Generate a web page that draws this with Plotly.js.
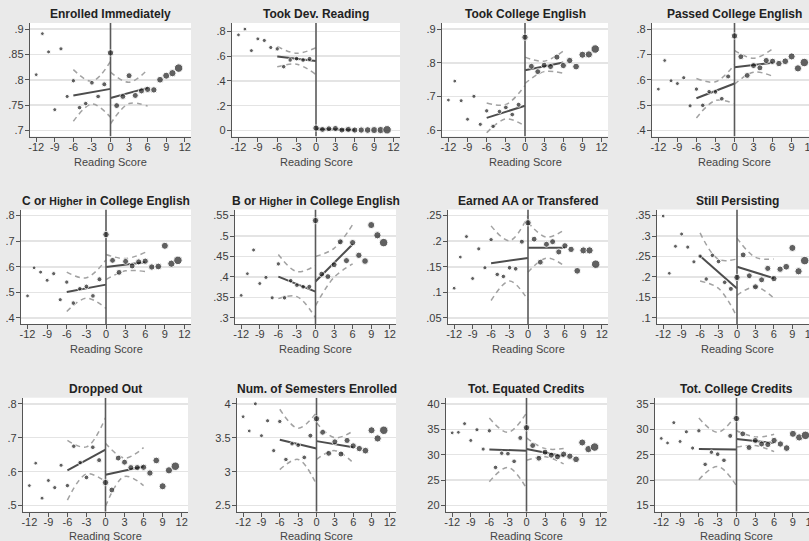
<!DOCTYPE html>
<html>
<head>
<meta charset="utf-8">
<script src="https://cdn.plot.ly/plotly-3.0.1.min.js"></script>
<style>
  html, body { margin: 0; padding: 0; overflow: hidden; background: #eaeaea; }
  #chart { width: 830px; height: 541px; }
</style>
</head>
<body>
<div id="chart"></div>
<script>
// Regression-discontinuity panels: outcome means by reading score bin,
// with linear fits and 95% bands on each side of the cutoff.

const readingScore = [-12, -11, -10, -9, -8, -7, -6, -5, -4, -3, -2, -1,
                      0, 1, 2, 3, 4, 5, 6, 7, 8, 9, 10, 11];
// students per score bin (marker area follows these)
const binCount = [9, 9, 10, 10, 11, 11, 12, 13, 13, 14, 14, 16,
                  26, 22, 22, 23, 23, 24, 25, 26, 29, 32, 34, 46];

const CUTOFF = 0;
const fitLeftX = [-6, 0];
const fitRightX = [0, 6];
const bandLeftX = [-6, -3, 0];
const bandRightX = [0, 3, 6];
const xTicks = [-12, -9, -6, -3, 0, 3, 6, 9, 12];

const panelTitles = [
  "Enrolled Immediately", "Took Dev. Reading", "Took College English", "Passed College English",
  "C or <span style='font-size:10.5px'>Higher</span> in College English",
  "B or <span style='font-size:10.5px'>Higher</span> in College English",
  "Earned AA or Transfered", "Still Persisting",
  "Dropped Out", "Num. of Semesters Enrolled", "Tot. Equated Credits", "Tot. College Credits"
];

// bin means
const enrolledImmediately = [.810, .891, .855, .741, .861, .767, .798, .745, .753, .794, .767, .791,
                             .853, .749, .767, .808, .769, .778, .781, .780, .800, .808, .813, .823];
const tookDevReading = [.772, .819, .645, .740, .727, .670, .659, .515, .569, .580, .569, .578,
                        .019, .008, .014, .016, .003, .008, .003, .003, .003, .003, .003, .005];
const tookCollegeEnglish = [.690, .746, .688, .633, .701, .618, .658, .612, .656, .668, .647, .676,
                            .876, .790, .774, .793, .789, .817, .792, .807, .789, .824, .825, .841];
const passedCollegeEnglish = [.563, .676, .596, .585, .608, .497, .563, .499, .553, .552, .525, .613,
                              .773, .691, .617, .656, .647, .676, .673, .664, .673, .692, .645, .668];
const cOrHigher = [.486, .596, .579, .547, .573, .471, .540, .458, .514, .523, .486, .551,
                   .726, .625, .578, .621, .603, .619, .622, .599, .601, .682, .612, .625];
const bOrHigher = [.355, .408, .466, .384, .399, .349, .432, .349, .391, .380, .376, .376,
                   .538, .407, .401, .430, .486, .440, .484, .453, .439, .527, .502, .484];
const earnedAAorTransfer = [.108, .169, .209, .127, .185, .148, .203, .135, .131, .148, .146, .199,
                            .236, .204, .159, .194, .199, .179, .191, .184, .142, .182, .182, .155];
const stillPersisting = [.349, .209, .275, .305, .273, .237, .251, .195, .253, .238, .187, .171,
                         .199, .254, .203, .176, .193, .221, .196, .219, .225, .271, .214, .240];
const droppedOut = [.559, .625, .522, .574, .553, .619, .559, .675, .627, .583, .672, .634,
                    .568, .546, .640, .628, .612, .612, .613, .596, .633, .557, .604, .616];
const semestersEnrolled = [3.81, 3.60, 4.00, 3.53, 3.75, 3.31, 3.74, 3.18, 3.41, 3.39, 3.21, 3.53,
                           3.78, 3.58, 3.27, 3.44, 3.26, 3.46, 3.38, 3.34, 3.31, 3.61, 3.49, 3.61];
const equatedCredits = [34.3, 34.4, 36.1, 32.8, 34.9, 31.1, 34.7, 27.5, 30.3, 30.2, 28.7, 33.3,
                        35.3, 31.8, 29.3, 30.5, 29.9, 29.6, 30.1, 29.7, 29.1, 32.4, 31.1, 31.5];
const collegeCredits = [28.2, 27.3, 31.3, 27.6, 29.5, 26.3, 29.7, 23.1, 25.5, 25.1, 23.9, 28.7,
                        32.1, 29.1, 26.4, 27.8, 27.1, 27.0, 27.8, 27.1, 26.3, 29.1, 28.4, 28.8];

// linear fits: [left at -6, left at 0, right at 0, right at 6]
const fitEnrolled = [.769, .782, .764, .784];
const fitDevReading = [.597, .561, .012, .004];
const fitTookEnglish = [.637, .673, .778, .801];
const fitPassedEnglish = [.527, .585, .649, .667];
const fitCOrHigher = [.501, .530, .599, .618];
const fitBOrHigher = [.401, .364, .389, .480];
const fitEarnedAA = [.157, .167, .187, .187];
const fitPersisting = [.251, .172, .225, .197];
const fitDropped = [.604, .665, .591, .615];
const fitSemesters = [3.47, 3.34, 3.45, 3.36];
const fitEquated = [31.0, 30.8, 31.1, 29.7];
const fitCollege = [26.1, 26.0, 28.1, 27.3];

// 95% bands: [upper left, lower left, upper right, lower right]
const bandEnrolled = [[.820, .797, .836], [.718, .752, .726], [.815, .795, .820], [.713, .753, .748]];
const bandDevReading = [[.678, .624, .668], [.514, .535, .452], [.022, .013, .012], [.002, .003, -.004]];
const bandTookEnglish = [[.681, .677, .733], [.593, .634, .613], [.817, .805, .835], [.739, .774, .769]];
const bandPassedEnglish = [[.605, .592, .660], [.449, .518, .506], [.716, .685, .722], [.582, .630, .614]];
const bandCOrHigher = [[.579, .557, .627], [.425, .477, .437], [.648, .632, .656], [.550, .584, .581]];
const bandBOrHigher = [[.455, .413, .428], [.347, .352, .300], [.450, .470, .528], [.330, .399, .432]];
const bandEarnedAA = [[.230, .201, .249], [.084, .122, .085], [.237, .208, .223], [.139, .167, .151]];
const bandPersisting = [[.308, .243, .244], [.190, .172, .102], [.295, .248, .244], [.155, .176, .148]];
const bandDropped = [[.692, .673, .759], [.516, .593, .571], [.684, .640, .671], [.498, .586, .559]];
const bandSemesters = [[3.92, 3.64, 3.87], [3.03, 3.18, 2.81], [3.72, 3.50, 3.60], [3.18, 3.31, 3.13]];
const bandEquated = [[37.2, 34.4, 38.2], [24.7, 27.5, 23.4], [33.3, 31.2, 31.2], [28.9, 29.6, 28.2]];
const bandCollege = [[32.2, 29.4, 32.9], [20.1, 22.7, 18.9], [29.7, 28.5, 29.0], [26.5, 26.8, 25.6]];

const yTicks = [
  [.7, .75, .8, .85, .9], [0, .2, .4, .6, .8], [.6, .7, .8, .9], [.4, .5, .6, .7, .8],
  [.4, .5, .6, .7, .8], [.3, .35, .4, .45, .5, .55], [.05, .1, .15, .2, .25], [.1, .15, .2, .25, .3, .35],
  [.5, .6, .7, .8], [2.5, 3, 3.5, 4], [20, 25, 30, 35, 40], [15, 20, 25, 30, 35]
];

const panelSeries = [enrolledImmediately, tookDevReading, tookCollegeEnglish, passedCollegeEnglish,
  cOrHigher, bOrHigher, earnedAAorTransfer, stillPersisting,
  droppedOut, semestersEnrolled, equatedCredits, collegeCredits];
const panelFits = [fitEnrolled, fitDevReading, fitTookEnglish, fitPassedEnglish,
  fitCOrHigher, fitBOrHigher, fitEarnedAA, fitPersisting,
  fitDropped, fitSemesters, fitEquated, fitCollege];
const panelBands = [bandEnrolled, bandDevReading, bandTookEnglish, bandPassedEnglish,
  bandCOrHigher, bandBOrHigher, bandEarnedAA, bandPersisting,
  bandDropped, bandSemesters, bandEquated, bandCollege];

// ---- page geometry (pixels) ----
const W = 830, H = 541;
const plotLeft = [[30, 232, 442, 652], [21, 235, 448, 657], [23, 237, 446, 655]];
const plotRight = [[191, 400, 608, 817], [191, 396, 608, 817], [188, 396, 607, 818]];
const rowTop = [23, 209.5, 397.7];
const rowBottom = [136.5, 324, 511.7];
const titleY = [14, 201.5, 389];
const xTitleY = [161.5, 348.5, 535.5];

const axisColor = '#555555';
const tickFont = { family: 'Liberation Sans, Arial, sans-serif', size: 11, color: '#3c3c3c' };

function fmtTick(v) {
  let s = String(v);
  if (s.startsWith('0.')) s = s.slice(1);
  return s;
}

const traces = [];
const layout = {
  width: W, height: H,
  margin: { l: 0, r: 0, t: 0, b: 0 },
  paper_bgcolor: '#eaeaea',
  plot_bgcolor: '#ffffff',
  showlegend: false,
  annotations: []
};

panelSeries.forEach((series, i) => {
  const r = Math.floor(i / 4), c = i % 4;
  const xa = i === 0 ? 'x' : 'x' + (i + 1);
  const ya = i === 0 ? 'y' : 'y' + (i + 1);
  const ticks = yTicks[i];
  const fit = panelFits[i];
  const band = panelBands[i];

  const dMin = Math.min(...series), dMax = Math.max(...series);
  const lo0 = Math.min(ticks[0], dMin), hi0 = Math.max(ticks[ticks.length - 1], dMax);
  const pad = 0.06 * (hi0 - lo0);
  const yRange = [lo0 - pad, hi0 + pad];

  const bandStyle = { color: '#a2a2a2', width: 1.5, dash: '5px,4px', shape: 'spline' };
  [[bandLeftX, band[0]], [bandLeftX, band[1]], [bandRightX, band[2]], [bandRightX, band[3]]]
    .forEach(([bx, by]) => traces.push({
      type: 'scatter', mode: 'lines', x: bx, y: by, xaxis: xa, yaxis: ya,
      line: bandStyle, hoverinfo: 'skip'
    }));

  const fitStyle = { color: '#4d4d4d', width: 2 };
  traces.push({ type: 'scatter', mode: 'lines', x: fitLeftX, y: [fit[0], fit[1]],
    xaxis: xa, yaxis: ya, line: fitStyle });
  traces.push({ type: 'scatter', mode: 'lines', x: fitRightX, y: [fit[2], fit[3]],
    xaxis: xa, yaxis: ya, line: fitStyle });

  // cutoff line spanning the plot height
  traces.push({ type: 'scatter', mode: 'lines', x: [CUTOFF, CUTOFF], y: yRange,
    xaxis: xa, yaxis: ya, line: { color: '#5a5a5a', width: 1.6 }, hoverinfo: 'skip' });

  traces.push({
    type: 'scatter', mode: 'markers', x: readingScore, y: series, xaxis: xa, yaxis: ya,
    marker: { color: '#1e1e1e', size: binCount.map(n => 1.25 * Math.sqrt(n)) },
    cliponaxis: false
  });

  const left = plotLeft[r][c], right = plotRight[r][c];
  layout['xaxis' + (i === 0 ? '' : i + 1)] = {
    domain: [left / W, right / W], anchor: ya, range: [-13, 13],
    tickvals: xTicks, ticktext: xTicks.map(String),
    ticks: 'outside', ticklen: 4, tickwidth: 1, tickcolor: axisColor,
    ticklabelstandoff: -4,
    showline: true, linecolor: axisColor, linewidth: 1.2,
    showgrid: false, zeroline: false, tickfont: tickFont, fixedrange: true
  };
  layout['yaxis' + (i === 0 ? '' : i + 1)] = {
    domain: [1 - rowBottom[r] / H, 1 - rowTop[r] / H], anchor: xa, range: yRange,
    tickvals: ticks, ticktext: ticks.map(fmtTick),
    ticks: 'outside', ticklen: 4, tickwidth: 1, tickcolor: axisColor,
    ticklabelstandoff: -1,
    showline: true, linecolor: axisColor, linewidth: 1.2,
    showgrid: true, gridcolor: '#e4e4e4', gridwidth: 1.5,
    zeroline: false, tickfont: tickFont, fixedrange: true
  };

  const cx = (left + right) / 2 / W;
  layout.annotations.push({
    xref: 'paper', yref: 'paper', x: cx, y: 1 - titleY[r] / H,
    xanchor: 'center', yanchor: 'middle', showarrow: false,
    text: '<b>' + panelTitles[i] + '</b>',
    font: { family: 'Liberation Sans, Arial, sans-serif', size: 12, color: '#222222' }
  });
  layout.annotations.push({
    xref: 'paper', yref: 'paper', x: cx, y: 1 - xTitleY[r] / H,
    xanchor: 'center', yanchor: 'middle', showarrow: false,
    text: 'Reading Score',
    font: { family: 'Liberation Sans, Arial, sans-serif', size: 11, color: '#444444' }
  });
});

Plotly.newPlot('chart', traces, layout, { displayModeBar: false, staticPlot: true });
</script>
</body>
</html>
